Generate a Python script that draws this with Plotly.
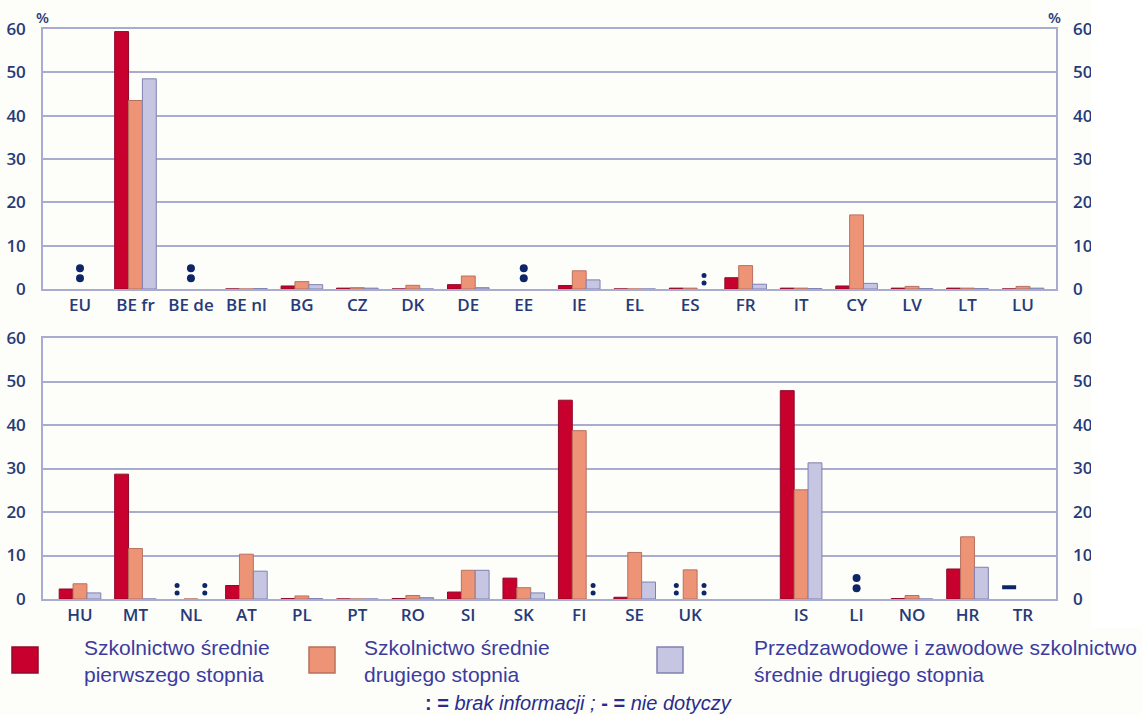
import plotly.graph_objects as go

# ---------------- data ----------------
top_countries = ["EU", "BE fr", "BE de", "BE nl", "BG", "CZ", "DK", "DE", "EE",
                 "IE", "EL", "ES", "FR", "IT", "CY", "LV", "LT", "LU"]
top_lower_sec = [None, 59.4, None, 0, 0.7, 0.2, 0, 1.0, None,
                 0.8, 0, 0.2, 2.6, 0.2, 0.7, 0.2, 0.2, 0]
top_upper_sec = [None, 43.5, None, 0, 1.7, 0.3, 0.85, 3.0, None,
                 4.2, 0, 0.2, 5.4, 0.2, 17.1, 0.6, 0.2, 0.6]
top_voc_sec = [None, 48.5, None, 0.1, 1.0, 0.2, 0, 0.3, None,
               2.1, 0, None, 1.1, 0.1, 1.3, 0.1, 0.1, 0.2]

bot_countries = ["HU", "MT", "NL", "AT", "PL", "PT", "RO", "SI", "SK",
                 "FI", "SE", "UK", "", "IS", "LI", "NO", "HR", "TR"]
bot_lower_sec = [2.3, 28.7, None, 3.1, 0.1, 0, 0.1, 1.6, 4.8,
                 45.7, 0.4, None, None, 47.9, None, 0.1, 6.9, None]
bot_upper_sec = [3.5, 11.6, 0, 10.3, 0.7, 0, 0.8, 6.6, 2.6,
                 38.7, 10.7, 6.7, None, 25.1, None, 0.8, 14.3, None]
bot_voc_sec = [1.4, 0, None, 6.4, 0.1, 0, 0.3, 6.6, 1.4,
               None, 3.9, None, None, 31.3, None, 0, 7.3, None]

# ":" = no data, "-" = not applicable
top_na_all = ["EU", "BE de", "EE"]
top_na_lower = []
top_na_voc = ["ES"]
bot_na_all = ["LI"]
bot_na_lower = ["NL", "UK"]
bot_na_voc = ["NL", "FI", "UK"]
bot_not_applicable_lower = ["TR"]

series_names = ["Szkolnictwo średnie<br>pierwszego stopnia",
                "Szkolnictwo średnie<br>drugiego stopnia",
                "Przedzawodowe i zawodowe szkolnictwo<br>średnie drugiego stopnia"]
y_ticks = [0, 10, 20, 30, 40, 50, 60]
footnote = ("<b>:</b> <b>=</b> <i>brak informacji ;</i> <b>-</b> <b>=</b> "
            "<i>nie dotyczy</i>")

# ---------------- style ----------------
W, H = 1142, 715
FILL = ["#C8002E", "#EE9476", "#C6C6E3"]
EDGE = ["#8E0B2A", "#B8705E", "#7F80B0"]
NAVY = "#273A78"
DOT = "#0E2667"
GRID = "#A9ACCE"
LEG_TXT = "#3B3C9E"
BG = "#FDFDFA"
BARGAP = 0.25
BAR_W = (1 - BARGAP) / 3
BIG_COLON = (2.5, 4.8)
SMALL_COLON = (1.4, 3.1)
DASH_LEVEL = 2.7
X_RANGE = [-0.667, 17.595]
TICK_FONT = dict(family="Open Sans", size=17, color=NAVY, weight=600)

fig = go.Figure()


def add_panel(cats, series, na_all, na_lower, na_voc, dash_lower, xa, ya):
    idx = list(range(len(cats)))
    for k, vals in enumerate(series):
        fig.add_trace(go.Bar(
            x=idx, y=vals, xaxis=xa, yaxis=ya, offsetgroup=str(k),
            marker=dict(color=FILL[k], line=dict(color=EDGE[k], width=1)),
            showlegend=False, hoverinfo="skip"))

    def dots(names, offset, levels, size):
        xs, ys = [], []
        for n in names:
            i = cats.index(n)
            for lv in levels:
                xs.append(i + offset)
                ys.append(lv)
        if xs:
            fig.add_trace(go.Scatter(
                x=xs, y=ys, xaxis=xa, yaxis=ya, mode="markers",
                marker=dict(color=DOT, size=size, symbol="circle"),
                showlegend=False, hoverinfo="skip"))

    dots(na_all, 0, BIG_COLON, 8)
    dots(na_lower, -BAR_W, SMALL_COLON, 5)
    dots(na_voc, BAR_W, SMALL_COLON, 5)
    if dash_lower:
        fig.add_trace(go.Scatter(
            x=[cats.index(n) - BAR_W for n in dash_lower],
            y=[DASH_LEVEL] * len(dash_lower), xaxis=xa, yaxis=ya,
            mode="markers",
            marker=dict(symbol="line-ew", size=10,
                        line=dict(color=DOT, width=4)),
            showlegend=False, hoverinfo="skip"))
    return idx


ti = add_panel(top_countries, [top_lower_sec, top_upper_sec, top_voc_sec],
               top_na_all, top_na_lower, top_na_voc, [], "x", "y")
bi = add_panel(bot_countries, [bot_lower_sec, bot_upper_sec, bot_voc_sec],
               bot_na_all, bot_na_lower, bot_na_voc,
               bot_not_applicable_lower, "x2", "y2")

# invisible traces to activate right-hand tick axes
fig.add_trace(go.Scatter(x=[None], y=[None], xaxis="x", yaxis="y3",
                         showlegend=False, hoverinfo="skip"))
fig.add_trace(go.Scatter(x=[None], y=[None], xaxis="x2", yaxis="y4",
                         showlegend=False, hoverinfo="skip"))

xdom = [43 / W, 1056 / W]
top_dom = [1 - 289 / H, 1 - 29 / H]
bot_dom = [1 - 599 / H, 1 - 338 / H]

xcommon = dict(domain=xdom, range=X_RANGE, showgrid=False, zeroline=False,
               showline=True, linecolor=GRID, linewidth=1.5, mirror=True,
               tickfont=TICK_FONT, ticks="", ticklabelstandoff=0,
               fixedrange=True, automargin=False)
ycommon = dict(range=[0, 60], tickvals=y_ticks, showgrid=True,
               gridcolor=GRID, gridwidth=1.5, zeroline=False,
               showline=True, linecolor=GRID, linewidth=1.5, mirror=True,
               tickfont=TICK_FONT, ticks="", fixedrange=True, automargin=False)

fig.update_layout(
    width=W, height=H, autosize=False,
    margin=dict(l=0, r=0, t=0, b=0, pad=0, autoexpand=False),
    paper_bgcolor=BG, plot_bgcolor=BG,
    barmode="group", bargap=BARGAP, bargroupgap=0,
    xaxis=dict(xcommon, anchor="y", tickvals=ti, ticktext=top_countries),
    xaxis2=dict(xcommon, anchor="y2", tickvals=bi, ticktext=bot_countries),
    yaxis=dict(ycommon, domain=top_dom, anchor="x", ticklabelstandoff=12),
    yaxis2=dict(ycommon, domain=bot_dom, anchor="x2", ticklabelstandoff=12),
    yaxis3=dict(range=[0, 60], tickvals=y_ticks, overlaying="y", side="right",
                anchor="x", showgrid=False, zeroline=False, showline=False,
                tickfont=TICK_FONT, ticklabelstandoff=16, fixedrange=True,
                automargin=False),
    yaxis4=dict(range=[0, 60], tickvals=y_ticks, overlaying="y2",
                side="right", anchor="x2", showgrid=False, zeroline=False,
                showline=False, tickfont=TICK_FONT, ticklabelstandoff=16,
                fixedrange=True, automargin=False),
)

# white strip at the right edge (source image is cropped there)
fig.add_shape(type="rect", xref="paper", yref="paper", layer="above",
              x0=1091 / W, x1=1, y0=1 - 628 / H, y1=1,
              fillcolor="#FFFFFF", line=dict(width=0))

# "%" unit labels
for xp in (43, 1054):
    fig.add_annotation(x=xp / W, y=1 - 17 / H, xref="paper", yref="paper",
                       xanchor="center", yanchor="middle",
                       text="%", showarrow=False,
                       font=dict(family="Open Sans", size=15, color=NAVY,
                                 weight=600))

# manual legend
sq = [(12, 38), (309, 335), (657, 683)]
txt_x = [82, 362, 752]
for k in range(3):
    fig.add_shape(type="rect", xref="paper", yref="paper",
                  x0=sq[k][0] / W, x1=sq[k][1] / W,
                  y0=1 - 673 / H, y1=1 - 647 / H,
                  fillcolor=FILL[k], line=dict(color=EDGE[k], width=1.5))
    fig.add_annotation(x=txt_x[k] / W, y=1 - 661 / H, xref="paper",
                       yref="paper", xanchor="left", yanchor="middle",
                       align="left", text=series_names[k], showarrow=False,
                       font=dict(family="Liberation Sans", size=21,
                                 color=LEG_TXT))

fig.add_annotation(x=578 / W, y=1 - 703 / H, xref="paper", yref="paper",
                   xanchor="center", yanchor="middle", text=footnote,
                   showarrow=False,
                   font=dict(family="Liberation Sans", size=20, color="#2A2C8C"))

fig.write_html("out.html", config={"displayModeBar": False},
               post_script="document.body.style.margin='0';")
